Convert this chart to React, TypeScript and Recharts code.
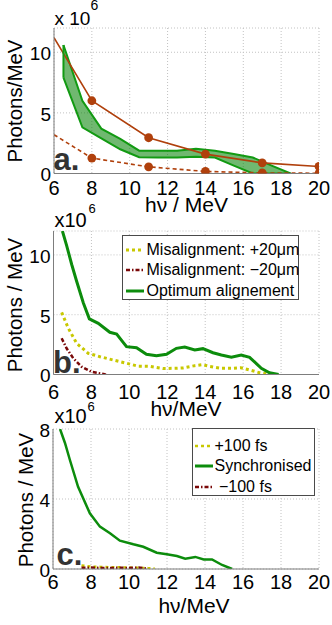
import React from 'react';
import { ComposedChart, Line, Area, XAxis, YAxis, CartesianGrid, Legend, Label } from 'recharts';

const FONT = '"Liberation Sans", Arial, Helvetica, sans-serif';

// ---------- Panel a ----------
const energyA = [6, 8, 11, 14, 17, 20];
const upperBoundA = [11.2, 6.0, 2.95, 1.6, 0.88, 0.58];
const lowerBoundA = [3.2, 1.27, 0.55, 0.17, 0.05, 0.02];
const bandEnergyA = [6.5, 7.5, 8.5, 9.5, 10.5, 11.5, 12.5, 13.5, 14.5, 15.5, 16.5, 17.5, 18.5];
const bandHighA = [10.6, 6.0, 3.7, 2.85, 1.88, 1.88, 1.88, 2.05, 1.88, 1.6, 1.32, 0.65, 0];
const bandLowA = [7.9, 3.8, 2.9, 2.0, 1.35, 1.32, 1.32, 1.38, 1.32, 0.65, 0, 0, 0];

// ---------- Panel b ----------
const optimumEnergy = [6.47, 6.69, 6.96, 7.22, 7.57, 7.89, 8.36, 8.97, 9.33, 9.85, 10.38, 10.9, 11.43, 11.96, 12.48, 12.92, 13.45, 13.88, 14.41, 14.85, 15.38, 15.9, 16.34, 16.96, 17.39, 17.87];
const optimumPhotons = [12.0, 10.8, 9.2, 7.8, 6.0, 4.65, 4.28, 3.53, 3.39, 2.33, 2.24, 1.69, 1.57, 1.69, 2.19, 2.3, 2.05, 2.16, 1.82, 1.63, 1.44, 1.63, 1.44, 0.52, 0.15, 0];
const plus20Energy = [6.43, 6.78, 7.22, 7.83, 8.45, 9.15, 9.85, 10.46, 11.1, 11.78, 12.48, 12.83, 13.45, 13.85, 14.24, 14.85, 15.46, 15.87, 16.34, 16.87, 17.5];
const plus20Photons = [5.2, 3.87, 2.61, 1.77, 1.49, 1.21, 0.94, 0.7, 0.68, 0.5, 0.52, 0.55, 0.74, 0.82, 0.68, 0.52, 0.52, 0.57, 0.38, 0.15, 0];
const minus20Energy = [6.43, 6.69, 7.04, 7.48, 8.0, 8.7, 8.85];
const minus20Photons = [3.03, 2.19, 1.36, 0.65, 0.23, 0.02, 0];
const legendNamesB = ['Misalignment: +20\u03bcm', 'Misalignment: \u221220\u03bcm', 'Optimum alignement'];

// ---------- Panel c ----------
const syncEnergy = [6.37, 6.63, 6.89, 7.32, 7.94, 8.47, 9.0, 9.52, 10.23, 10.75, 11.46, 11.99, 12.52, 12.96, 13.49, 13.93, 14.37, 14.9, 15.43];
const syncPhotons = [8.0, 7.2, 6.23, 4.7, 3.18, 2.42, 2.04, 1.62, 1.41, 1.27, 0.93, 0.84, 0.74, 0.59, 0.69, 0.55, 0.55, 0.23, 0];
const plus100Energy = [7.5, 8, 8.5, 9, 9.5, 10, 10.5, 11, 11.35];
const plus100Photons = [0.2, 0.14, 0.12, 0.1, 0.1, 0.08, 0.07, 0.05, 0.03];
const minus100Energy = [7.5, 8, 8.5, 9, 9.5, 10, 10.5, 10.9];
const minus100Photons = [0.07, 0.08, 0.06, 0.06, 0.07, 0.06, 0.08, 0.03];
const legendNamesC = ['+100 fs', 'Synchronised', ' \u2212100 fs'];

// ---------- axes ----------
const xTicks = [6, 8, 10, 12, 14, 16, 18, 20];
const yTicksAB = [0, 5, 10];
const yTicksC = [0, 4, 8];

const pts = (xs: number[], ys: number[]) => xs.map((x, i) => ({ x, y: ys[i] }));
const stepList = (a: number, b: number, s: number) => {
  const out: number[] = [];
  for (let v = a; v <= b + 1e-9; v += s) out.push(Math.round(v * 100) / 100);
  return out;
};

const GRAY = '#7d7d7d';
const BROWN = '#b0400c';
const GREEN = '#0c8c0c';
const YELLOW = '#c8c800';
const DARKRED = '#7a0808';

const XTick = (p: any) => (
  <text x={p.x} y={p.y} dy="0.71em" textAnchor="middle" fontSize={20} fill="#000" fontFamily={FONT}>
    {p.payload.value}
  </text>
);
const YTick = (p: any) => (
  <text x={p.x} y={p.y} dy="0.42em" textAnchor="end" fontSize={19} fill="#000" fontFamily={FONT}>
    {p.payload.value}
  </text>
);

function frameAxes(yMax: number, minorStepY: number) {
  const xMinor = stepList(6, 20, 0.5);
  const yMinor = stepList(0, yMax, minorStepY);
  return [
    <XAxis key="xt" xAxisId="top" orientation="top" mirror type="number" dataKey="x" domain={[6, 20]} allowDataOverflow
      ticks={xMinor} interval={0} tick={false} tickSize={3} tickLine={{ stroke: GRAY }} axisLine={{ stroke: GRAY }} height={0} />,
    <XAxis key="xbm" xAxisId="bm" orientation="bottom" mirror type="number" dataKey="x" domain={[6, 20]} allowDataOverflow
      ticks={xMinor} interval={0} tick={false} tickSize={3} tickLine={{ stroke: GRAY }} axisLine={false} height={0} />,
    <YAxis key="yr" yAxisId="right" orientation="right" mirror type="number" domain={[0, yMax]} allowDataOverflow
      ticks={yMinor} interval={0} tick={false} tickSize={3} tickLine={{ stroke: GRAY }} axisLine={{ stroke: GRAY }} width={0} />,
    <YAxis key="ylm" yAxisId="lm" orientation="left" mirror type="number" domain={[0, yMax]} allowDataOverflow
      ticks={yMinor} interval={0} tick={false} tickSize={3} tickLine={{ stroke: GRAY }} axisLine={false} width={0} />,
  ];
}

const markerDot = (fill: string) => (p: any) =>
  p.index === 0 ? <g key={`d${p.index}`} /> : <circle key={`d${p.index}`} cx={p.cx} cy={p.cy} r={4.4} fill={fill} stroke="none" />;

const Sample = ({ color, dash, w }: { color: string; dash?: string; w: number }) => (
  <svg width={20} height={12} style={{ flex: '0 0 auto' }}>
    <line x1={1} x2={19} y1={6} y2={6} stroke={color} strokeWidth={w} strokeDasharray={dash} />
  </svg>
);

const LegendB = () => (
  <div style={{ width: 177, height: 65, border: `1px solid #4a4a4a`, background: '#fff', boxSizing: 'border-box', paddingTop: 4, fontFamily: FONT, fontSize: 16, color: '#000' }}>
    {[{ c: YELLOW, d: '3 3', w: 3 }, { c: DARKRED, d: '4 2 1.5 2', w: 2.5 }, { c: GREEN, d: undefined, w: 3 }].map((s, i) => (
      <div key={i} style={{ display: 'flex', alignItems: 'center', height: 20.5, paddingLeft: 2 }}>
        <Sample color={s.c} dash={s.d} w={s.w} />
        <span style={{ whiteSpace: 'pre', marginLeft: 2, lineHeight: '20px' }}>{legendNamesB[i]}</span>
      </div>
    ))}
  </div>
);

const LegendC = () => (
  <div style={{ width: 123, height: 68, border: `1px solid #4a4a4a`, background: '#fff', boxSizing: 'border-box', paddingTop: 7, fontFamily: FONT, fontSize: 16, color: '#000' }}>
    {[{ c: YELLOW, d: '3 3', w: 2.5 }, { c: GREEN, d: undefined, w: 3 }, { c: DARKRED, d: '4 2 1.5 2', w: 2.5 }].map((s, i) => (
      <div key={i} style={{ display: 'flex', alignItems: 'center', height: 20.3, paddingLeft: 1 }}>
        <Sample color={s.c} dash={s.d} w={s.w} />
        <span style={{ whiteSpace: 'pre', marginLeft: 1, lineHeight: '20px' }}>{legendNamesC[i]}</span>
      </div>
    ))}
  </div>
);

const bandDataA = bandEnergyA.map((x, i) => ({ x, range: [bandLowA[i], bandHighA[i]] }));
const bandEdgeA = [
  { x: bandEnergyA[0], y: bandLowA[0] },
  { x: bandEnergyA[0], y: bandHighA[0] },
];

const yLabel = (x: number, y: number, text: string) => (
  <text x={x} y={y} transform={`rotate(-90 ${x} ${y})`} textAnchor="middle" fontSize={20.5} fill="#000" fontFamily={FONT}>{text}</text>
);

const PanelA = () => (
  <ComposedChart width={332} height={215} data={bandDataA} margin={{ top: 28, right: 13, bottom: 11.5, left: 0 }}>
    <CartesianGrid stroke="#c2c2c2" strokeDasharray="1 2" />
    <XAxis type="number" dataKey="x" domain={[6, 20]} allowDataOverflow ticks={xTicks} interval={0} tick={<XTick />}
      tickSize={0} tickMargin={7} tickLine={false} axisLine={{ stroke: GRAY }} height={30}>
      <Label content={() => (
        <text x={186.5} y={211.5} textAnchor="middle" fontSize={21} fill="#000" fontFamily={FONT}>h{'\u03bd'} / MeV</text>
      )} />
    </XAxis>
    <YAxis type="number" domain={[0, 12]} allowDataOverflow ticks={yTicksAB} interval={0} tick={<YTick />}
      tickSize={0} tickMargin={3} tickLine={false} axisLine={{ stroke: GRAY }} width={54}>
      <Label content={() => (
        <g>
          {yLabel(21.5, 101, 'Photons/MeV')}
          <text x={54.5} y={25} fontSize={19} fill="#000" fontFamily={FONT}>x 10</text>
          <text x={90.5} y={10} fontSize={14} fill="#000" fontFamily={FONT}>6</text>
          <text x={53.5} y={170} fontSize={31} fontWeight="bold" fill="#333" fontFamily={FONT}>a.</text>
        </g>
      )} />
    </YAxis>
    {frameAxes(12, 0.5)}
    <Line data={pts(energyA, upperBoundA)} dataKey="y" type="linear" stroke={BROWN} strokeWidth={1.6}
      dot={markerDot(BROWN)} activeDot={false} isAnimationActive={false} />
    <Line data={pts(energyA, lowerBoundA)} dataKey="y" type="linear" stroke={BROWN} strokeWidth={1.6} strokeDasharray="4 3"
      dot={markerDot(BROWN)} activeDot={false} isAnimationActive={false} />
    <Area dataKey="range" type="linear" stroke="#129a12" strokeWidth={2} fill="#008000" fillOpacity={0.56}
      dot={false} activeDot={false} isAnimationActive={false} />
    <Line data={bandEdgeA} dataKey="y" type="linear" stroke="#129a12" strokeWidth={2}
      dot={false} activeDot={false} isAnimationActive={false} />
  </ComposedChart>
);

const PanelB = () => (
  <ComposedChart width={332} height={225} margin={{ top: 31, right: 13, bottom: 20.5, left: 0 }}>
    <CartesianGrid stroke="#c2c2c2" strokeDasharray="1 2" />
    <XAxis type="number" dataKey="x" domain={[6, 20]} allowDataOverflow ticks={xTicks} interval={0} tick={<XTick />}
      tickSize={0} tickMargin={10.5} tickLine={false} axisLine={{ stroke: GRAY }} height={30}>
      <Label content={() => (
        <text x={186} y={216} textAnchor="middle" fontSize={21} fill="#000" fontFamily={FONT}>h{'\u03bd'}/MeV</text>
      )} />
    </XAxis>
    <YAxis type="number" domain={[0, 12]} allowDataOverflow ticks={yTicksAB} interval={0} tick={<YTick />}
      tickSize={0} tickMargin={3} tickLine={false} axisLine={{ stroke: GRAY }} width={53.5}>
      <Label content={() => (
        <g>
          {yLabel(21.5, 105, 'Photons / MeV')}
          <text x={54.5} y={26.5} fontSize={20} fill="#000" fontFamily={FONT}>x10</text>
          <text x={88.5} y={13} fontSize={13} fill="#000" fontFamily={FONT}>6</text>
          <text x={53} y={173} fontSize={31} fontWeight="bold" fill="#333" fontFamily={FONT}>b.</text>
        </g>
      )} />
    </YAxis>
    {frameAxes(12, 0.5)}
    <Line data={pts(plus20Energy, plus20Photons)} dataKey="y" type="linear" stroke={YELLOW} strokeWidth={3} strokeDasharray="3 3"
      dot={false} activeDot={false} isAnimationActive={false} />
    <Line data={pts(minus20Energy, minus20Photons)} dataKey="y" type="linear" stroke={DARKRED} strokeWidth={2.5} strokeDasharray="4 2 1.5 2"
      dot={false} activeDot={false} isAnimationActive={false} />
    <Line data={pts(optimumEnergy, optimumPhotons)} dataKey="y" type="linear" stroke={GREEN} strokeWidth={3}
      dot={false} activeDot={false} isAnimationActive={false} />
    <Legend layout="vertical" align="center" verticalAlign="middle"
      wrapperStyle={{ left: 121.5, top: 34.5, width: 177, height: 65 }} content={() => <LegendB />} />
  </ComposedChart>
);

const PanelC = () => (
  <ComposedChart width={332} height={225} margin={{ top: 29, right: 13, bottom: 26, left: 0 }}>
    <CartesianGrid stroke="#c2c2c2" strokeDasharray="1 2" />
    <XAxis type="number" dataKey="x" domain={[6, 20]} allowDataOverflow ticks={xTicks} interval={0} tick={<XTick />}
      tickSize={0} tickMargin={6} tickLine={false} axisLine={{ stroke: GRAY }} height={30}>
      <Label content={() => (
        <text x={194} y={213} textAnchor="middle" fontSize={21} fill="#000" fontFamily={FONT}>h{'\u03bd'}/MeV</text>
      )} />
    </XAxis>
    <YAxis type="number" domain={[0, 8]} allowDataOverflow ticks={yTicksC} interval={0} tick={<YTick />}
      tickSize={0} tickMargin={3} tickLine={false} axisLine={{ stroke: GRAY }} width={53}>
      <Label content={() => (
        <g>
          {yLabel(32.5, 100, 'Photons / MeV')}
          <text x={54.5} y={23} fontSize={20} fill="#000" fontFamily={FONT}>x10</text>
          <text x={87.5} y={11} fontSize={13} fill="#000" fontFamily={FONT}>6</text>
          <text x={56.5} y={165} fontSize={31} fontWeight="bold" fill="#333" fontFamily={FONT}>c.</text>
        </g>
      )} />
    </YAxis>
    {frameAxes(8, 0.5)}
    <Line data={pts(plus100Energy, plus100Photons)} dataKey="y" type="linear" stroke={YELLOW} strokeWidth={2.5} strokeDasharray="3 3"
      dot={false} activeDot={false} isAnimationActive={false} />
    <Line data={pts(syncEnergy, syncPhotons)} dataKey="y" type="linear" stroke={GREEN} strokeWidth={2.5}
      dot={false} activeDot={false} isAnimationActive={false} />
    <Line data={pts(minus100Energy, minus100Photons)} dataKey="y" type="linear" stroke={DARKRED} strokeWidth={2.5} strokeDasharray="4 2 1.5 2"
      dot={false} activeDot={false} isAnimationActive={false} />
    <Legend layout="vertical" align="center" verticalAlign="middle"
      wrapperStyle={{ left: 191.5, top: 28, width: 123, height: 68 }} content={() => <LegendC />} />
  </ComposedChart>
);

export default function App() {
  return (
    <div style={{ position: 'absolute', left: 0, top: 0, width: 332, height: 625, background: '#fff', overflow: 'hidden' }}>
      <div style={{ position: 'absolute', left: 0, top: 0 }}><PanelA /></div>
      <div style={{ position: 'absolute', left: 0, top: 200 }}><PanelB /></div>
      <div style={{ position: 'absolute', left: 0, top: 400 }}><PanelC /></div>
    </div>
  );
}
